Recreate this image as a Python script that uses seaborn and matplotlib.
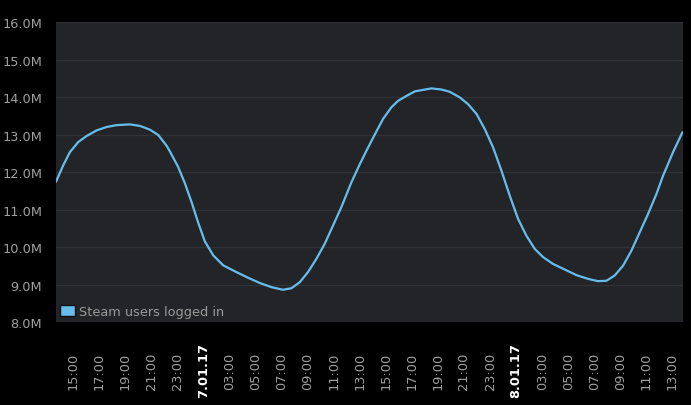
import matplotlib
matplotlib.use("Agg")
import matplotlib.pyplot as plt
import seaborn as sns
import pandas as pd
from matplotlib.patches import Patch

# hours since 6 Jan 2017 00:00
hours = [13.70, 14.26, 14.77, 15.41, 16.05, 16.82, 17.58, 18.35, 19.37, 20.14,
         20.90, 21.54, 22.19, 22.44, 23.08, 23.59, 24.10, 24.61, 25.12, 25.76,
         26.53, 27.55, 28.44, 29.34, 30.23, 31.11, 31.76, 32.40, 33.03, 33.67,
         34.31, 34.95, 35.59, 36.37, 37.01, 37.52, 38.16, 38.80, 39.44, 39.95,
         40.59, 41.23, 41.86, 42.51, 43.27, 43.91, 44.68, 45.31, 45.96, 46.59,
         47.23, 47.88, 48.51, 49.15, 49.79, 50.43, 51.07, 51.83, 52.73, 53.63,
         54.52, 55.28, 55.93, 56.56, 57.20, 57.84, 58.48, 59.12, 59.76, 60.27,
         61.04, 61.76]
# users logged in, millions
users_m = [11.74, 12.18, 12.53, 12.80, 12.96, 13.11, 13.20, 13.25, 13.27, 13.23,
           13.13, 12.99, 12.70, 12.55, 12.13, 11.70, 11.20, 10.65, 10.15, 9.78,
           9.51, 9.33, 9.18, 9.04, 8.93, 8.86, 8.90, 9.06, 9.33, 9.68,
           10.08, 10.57, 11.06, 11.73, 12.21, 12.57, 13.00, 13.42, 13.73, 13.90,
           14.03, 14.15, 14.19, 14.23, 14.20, 14.14, 13.99, 13.81, 13.55, 13.15,
           12.66, 12.03, 11.37, 10.75, 10.30, 9.95, 9.73, 9.55, 9.40, 9.25,
           9.15, 9.09, 9.10, 9.24, 9.50, 9.90, 10.39, 10.88, 11.41, 11.90,
           12.53, 13.06]

tick_hours = list(range(15, 62, 2))
tick_labels = ["15:00", "17:00", "19:00", "21:00", "23:00", "7.01.17",
               "03:00", "05:00", "07:00", "09:00", "11:00", "13:00",
               "15:00", "17:00", "19:00", "21:00", "23:00", "8.01.17",
               "03:00", "05:00", "07:00", "09:00", "11:00", "13:00"]
y_ticks = [8, 9, 10, 11, 12, 13, 14, 15, 16]

line_col = "#66bdec"
txt_col = "#a0a0a0"

sns.set_style("dark")
plt.rcParams["font.family"] = ["DejaVu Sans"]

fig = plt.figure(figsize=(6.91, 4.06), dpi=100, facecolor="black")
ax = fig.add_axes([0.081, 0.2044, 0.907, 0.7389])
ax.set_facecolor("#222427")

df = pd.DataFrame({"hour": hours, "users": users_m})
sns.lineplot(data=df, x="hour", y="users", ax=ax, color=line_col,
             linewidth=1.6, legend=False)

ax.set_xlim(13.70, 61.78)
ax.set_ylim(8, 16)
ax.set_yticks(y_ticks)
ax.set_yticklabels([f"{v:.1f}M" for v in y_ticks])
ax.set_xticks(tick_hours)
ax.set_xticklabels(tick_labels, rotation=90, va="center", ha="center")
ax.set_xlabel("")
ax.set_ylabel("")

ax.yaxis.grid(True, color="#303236", linewidth=1)
ax.xaxis.grid(False)
for s in ax.spines.values():
    s.set_visible(False)
ax.tick_params(length=0, colors=txt_col, labelsize=9.3)
ax.tick_params(axis="y", pad=10)
ax.tick_params(axis="x", pad=34.5)
for lbl in ax.get_xticklabels():
    if "." in lbl.get_text():
        lbl.set_fontweight("bold")
        lbl.set_color("white")

ax.legend(handles=[Patch(facecolor=line_col, edgecolor="#111111",
                         label="Steam users logged in")],
          loc="lower left", frameon=False, fontsize=9.3, labelcolor="#9a9a9a",
          handlelength=1.2, handleheight=1.0, handletextpad=0.25,
          borderaxespad=0.1, borderpad=0.2)

fig.savefig("out.png", dpi=100, facecolor="black")
